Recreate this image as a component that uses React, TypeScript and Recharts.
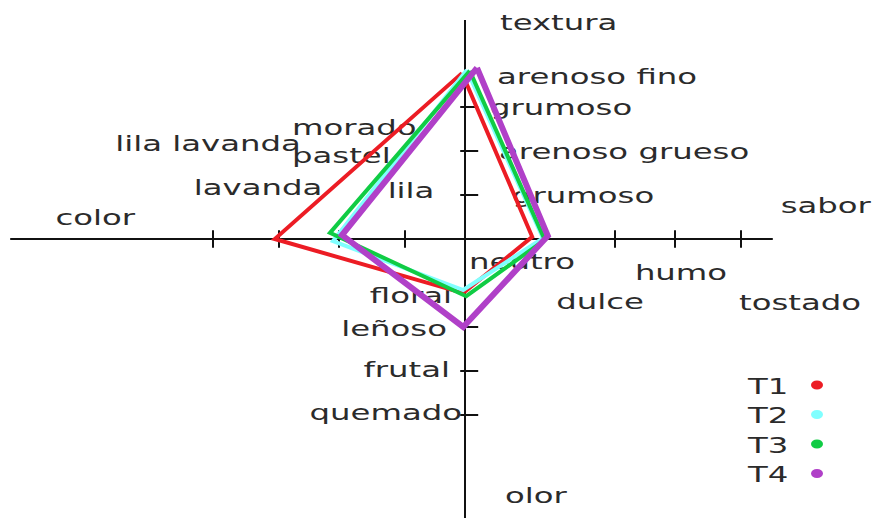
import {
  ScatterChart,
  Scatter,
  XAxis,
  YAxis,
  ReferenceLine,
  Legend,
} from "recharts";

// ---- data (axis units: color/sabor on x, textura/olor on y) ----

const axisTitles = ["textura", "sabor", "olor", "color"];

// textura arm (up)
const texturaCats = ["arenoso fino", "grumoso", "arenoso grueso", "grumoso"];
const texturaVals = [3.7, 3, 2, 1];
const texturaTicks = [1, 2, 3];

// olor arm (down)
const olorCats = ["floral", "leñoso", "frutal", "quemado"];
const olorVals = [-1.27, -2, -3, -4];
const olorTicks = [-2, -3, -4];

// sabor arm (right)
const saborCats = ["neutro", "dulce", "humo", "tostado"];
const saborVals = [1.2, 2.5, 3.5, 4.6];
const saborTicks = [2.5, 3.5, 4.6];

// color arm (left)
const colorCats = ["lila lavanda", "lavanda", "morado\npastel", "lila"];
const colorVals = [-4.2, -3.1, -2.1, -1];
const colorTicks = [-4.2, -3.1, -2.1, -1];

// each tratamiento: textura, sabor, olor, color
const seriesNames = ["T1", "T2", "T3", "T4"];
const t1 = [
  { x: -0.05, y: 3.77 },
  { x: 1.12, y: 0.05 },
  { x: -0.03, y: -1.23 },
  { x: -3.17, y: 0 },
];
const t2 = [
  { x: 0.03, y: 3.84 },
  { x: 1.3, y: 0.02 },
  { x: -0.03, y: -1.16 },
  { x: -2.2, y: -0.05 },
];
const t3 = [
  { x: 0.08, y: 3.82 },
  { x: 1.33, y: -0.02 },
  { x: 0.02, y: -1.3 },
  { x: -2.25, y: 0.14 },
];
const t4 = [
  { x: 0.2, y: 3.89 },
  { x: 1.38, y: 0.07 },
  { x: -0.03, y: -2.0 },
  { x: -2.05, y: 0.09 },
];

// ---- layout / styles ----

const W = 873;
const H = 518;
const X_DOMAIN: [number, number] = [-7.75, 6.8];
const Y_DOMAIN: [number, number] = [-6.341, 5.432];
const AXIS_X: [number, number] = [-7.58, 5.13];
const AXIS_Y: [number, number] = [4.98, -6.341];

const seriesColors = ["#ec1c24", "#80ffff", "#10cc44", "#b040c8"];
const seriesWidths = [4, 4, 4, 6];

const TEXT = "#2b2b2b";
const FONT = "DejaVu Sans, Verdana, sans-serif";
const FONT_SIZE = 22;
const STRETCH = 1.47;

type Anchor = "start" | "middle" | "end";
type LabelPt = { x: number; y: number; text: string; dx: number; dy: number; anchor: Anchor };

// pixel offsets of each category label from its spot on the arm
const texturaOff = [[32, 0], [25, 0], [34, 0], [47, 0]];
const olorOff = [[-13, 0], [-18, 1], [-15, -2], [-3, -3]];
const saborOff = [[-15, 22], [-15, 62], [6, 33], [59, 63]];
const colorOff: [number, number, Anchor][] = [
  [-5, -96, "middle"],
  [-21, -52, "middle"],
  [-47, -112, "start"],
  [6, -49, "middle"],
];

const labelPoints: LabelPt[] = [
  ...texturaCats.map((text, i) => ({
    x: 0, y: texturaVals[i], text, dx: texturaOff[i][0], dy: texturaOff[i][1], anchor: "start" as Anchor,
  })),
  ...olorCats.map((text, i) => ({
    x: 0, y: olorVals[i], text, dx: olorOff[i][0], dy: olorOff[i][1], anchor: "end" as Anchor,
  })),
  ...saborCats.map((text, i) => ({
    x: saborVals[i], y: 0, text, dx: saborOff[i][0], dy: saborOff[i][1], anchor: "middle" as Anchor,
  })),
  ...colorCats.map((text, i) => ({
    x: colorVals[i], y: 0, text, dx: colorOff[i][0], dy: colorOff[i][1], anchor: colorOff[i][2],
  })),
  // arm titles at the ends of the axes
  { x: 0, y: AXIS_Y[0], text: axisTitles[0], dx: 35, dy: 2, anchor: "start" },
  { x: AXIS_X[1], y: 0, text: axisTitles[1], dx: 53, dy: -34, anchor: "middle" },
  { x: 0, y: AXIS_Y[1], text: axisTitles[2], dx: 40, dy: -23, anchor: "start" },
  { x: AXIS_X[0], y: 0, text: axisTitles[3], dx: 85, dy: -22, anchor: "middle" },
];

const closeRing = (pts: { x: number; y: number }[]) => [...pts, pts[0]];
const seriesData = [t1, t2, t3, t4].map(closeRing);

const NoDot = () => <g />;

const LabelText = (props: any) => {
  const { cx, cy, payload } = props;
  if (cx == null || cy == null) return <g />;
  const lines = String(payload.text).split("\n");
  return (
    <text
      transform={`translate(${cx + payload.dx},${cy + payload.dy}) scale(${STRETCH},1)`}
      textAnchor={payload.anchor}
      dominantBaseline="central"
      fill={TEXT}
      fontSize={FONT_SIZE}
      fontFamily={FONT}
    >
      {lines.map((l, i) => (
        <tspan key={i} x={0} dy={i === 0 ? 0 : 28}>
          {l}
        </tspan>
      ))}
    </text>
  );
};

const renderLegend = (props: any) => {
  const items = (props.payload || []).filter((p: any) => seriesNames.includes(p.value));
  return (
    <svg width={110} height={130}>
      {items.map((p: any, i: number) => (
        <g key={p.value} transform={`translate(0,${i * 29.5})`}>
          <text
            transform={`translate(13,17) scale(${STRETCH},1)`}
            dominantBaseline="central"
            fill={TEXT}
            fontSize={FONT_SIZE}
            fontFamily={FONT}
          >
            {p.value}
          </text>
          <ellipse cx={82} cy={16} rx={6} ry={4.5} fill={p.color} />
        </g>
      ))}
    </svg>
  );
};

const axisStroke = { stroke: "#111", strokeWidth: 2, ifOverflow: "visible" as const };

export default function App() {
  return (
    <div style={{ position: "absolute", left: 0, top: 0, width: W, height: H, background: "#fff" }}>
      <ScatterChart width={W} height={H} margin={{ top: 0, right: 0, bottom: 0, left: 0 }}>
        <XAxis type="number" dataKey="x" domain={X_DOMAIN} allowDataOverflow hide />
        <YAxis type="number" dataKey="y" domain={Y_DOMAIN} allowDataOverflow hide />

        {/* the cross */}
        <ReferenceLine segment={[{ x: AXIS_X[0], y: 0 }, { x: AXIS_X[1], y: 0 }]} {...axisStroke} />
        <ReferenceLine segment={[{ x: 0, y: AXIS_Y[0] }, { x: 0, y: AXIS_Y[1] }]} {...axisStroke} />

        {/* tick marks */}
        {[...saborTicks, ...colorTicks].map((t) => (
          <ReferenceLine key={`h${t}`} segment={[{ x: t, y: -0.2 }, { x: t, y: 0.2 }]} {...axisStroke} />
        ))}
        {[...texturaTicks, ...olorTicks].map((t) => (
          <ReferenceLine key={`v${t}`} segment={[{ x: -0.08, y: t }, { x: 0.22, y: t }]} {...axisStroke} />
        ))}

        <Scatter
          name="labels"
          data={labelPoints}
          shape={LabelText}
          legendType="none"
          isAnimationActive={false}
        />

        {seriesData.map((d, i) => (
          <Scatter
            key={seriesNames[i]}
            name={seriesNames[i]}
            data={d}
            fill={seriesColors[i]}
            line={{ stroke: seriesColors[i], strokeWidth: seriesWidths[i], strokeLinejoin: "miter" }}
            lineType="joint"
            shape={NoDot}
            isAnimationActive={false}
          />
        ))}

        <Legend
          layout="horizontal"
          verticalAlign="middle"
          content={renderLegend}
          wrapperStyle={{ position: "absolute", left: 735, top: 369, width: 110 }}
        />
      </ScatterChart>
    </div>
  );
}
